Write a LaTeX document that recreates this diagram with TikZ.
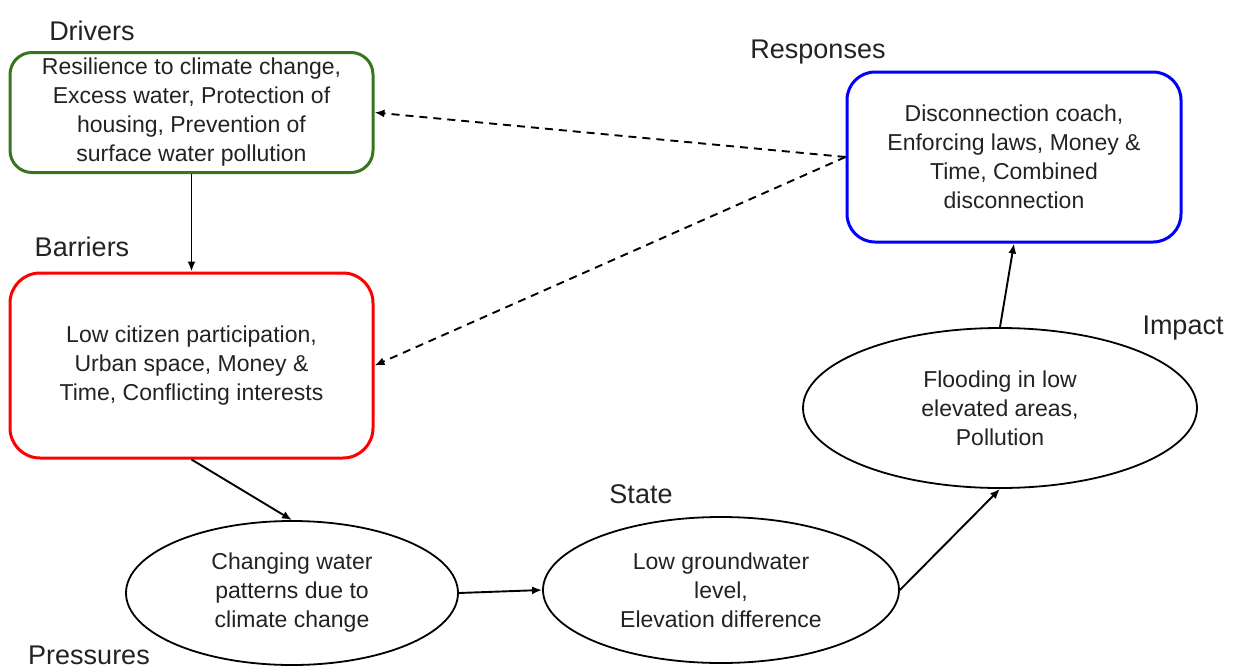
\documentclass[tikz,border=0pt]{standalone}
\usepackage{fontspec}
\setmainfont{Liberation Sans}
\usetikzlibrary{arrows.meta,shapes.geometric}
\definecolor{driverGreen}{RGB}{56,118,29}
\definecolor{barrierRed}{RGB}{255,0,0}
\definecolor{responseBlue}{RGB}{0,0,255}
\definecolor{bodyInk}{RGB}{34,34,34}
\begin{document}
\begin{tikzpicture}[x=1pt,y=-1pt,
  body/.style={font=\fontsize{23}{29}\selectfont, align=center, text=bodyInk},
  heading/.style={font=\fontsize{27}{32}\selectfont, anchor=base, text=bodyInk},
  card/.style={body, draw, line width=3pt, inner sep=0pt},
  oval/.style={body, ellipse, draw, line width=1.8pt, inner sep=0pt},
  link/.style={line width=1.9pt, -{Latex[length=10pt,width=8pt]}},
  feedback/.style={link, dash pattern=on 8pt off 6pt}]
\useasboundingbox (0,0) rectangle (1237,670);

% DPSIR boxes and ovals
\node[card, draw=driverGreen, rounded corners=22pt, minimum width=363pt, minimum height=120pt]
  (drivers) at (191.5,112.5)
  {Resilience to climate change,\\Excess water, Protection of\\housing, Prevention of\\surface water pollution};
\node[card, draw=barrierRed, rounded corners=30pt, minimum width=363pt, minimum height=185pt]
  (barriers) at (191.5,365.5)
  {Low citizen participation,\\Urban space, Money \&\\Time, Conflicting interests};
\node[card, draw=responseBlue, rounded corners=28pt, minimum width=334pt, minimum height=170pt]
  (responses) at (1014,157)
  {Disconnection coach,\\Enforcing laws, Money \&\\Time, Combined\\disconnection};
\node[oval, minimum width=332pt, minimum height=144pt] (pressures) at (292,593)
  {Changing water\\patterns due to\\climate change};
\node[oval, minimum width=356pt, minimum height=146pt] (state) at (721,590)
  {Low groundwater\\level,\\Elevation difference};
\node[oval, minimum width=394pt, minimum height=160pt] (impact) at (1000,408)
  {Flooding in low\\elevated areas,\\Pollution};

% headings
\node[heading] (hdrivers) at (92,40) {Drivers};
\node[heading] (hbarriers) at (82,256) {Barriers};
\node[heading] (hpressures) at (89,664) {Pressures};
\node[heading] (hstate) at (641,503) {State};
\node[heading] (hresponses) at (818,58) {Responses};
\node[heading] (himpact) at (1183,334) {Impact};

% causal chain
\draw[link] (drivers.south) -- (barriers.north);
\draw[link] (barriers.south) -- (pressures.north);
\draw[link] (pressures.east) -- (state.west);
\draw[link] (state.east) -- (impact.south);
\draw[link] (impact.north) -- (responses.south);

% feedback from responses
\draw[feedback] (responses.west) -- (drivers.east);
\draw[feedback] (responses.west) -- (barriers.east);
\end{tikzpicture}
\end{document}
